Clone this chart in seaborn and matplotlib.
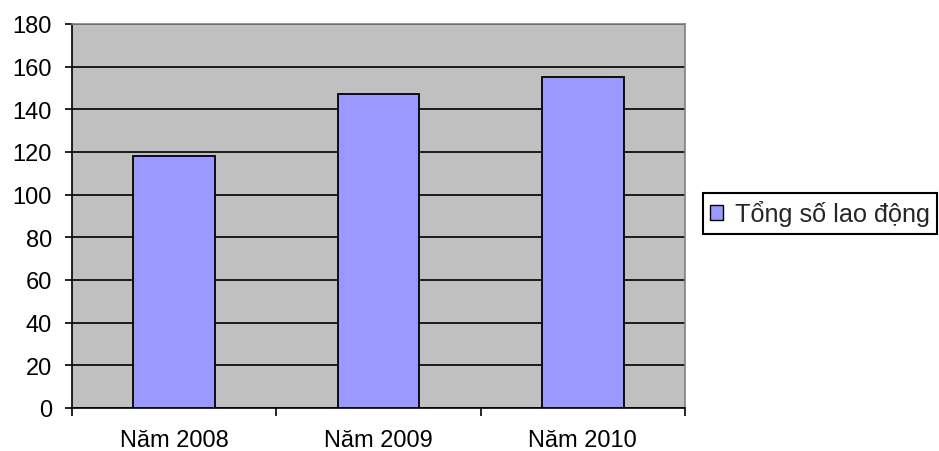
import matplotlib
matplotlib.use("Agg")
import matplotlib.pyplot as plt
from matplotlib.patches import Patch
import seaborn as sns
import pandas as pd

categories = ["Năm 2008", "Năm 2009", "Năm 2010"]
values = [118, 147, 155]
series_name = "Tổng số lao động"
y_ticks = [0, 20, 40, 60, 80, 100, 120, 140, 160, 180]

sns.set_style("white")
plt.rcParams['font.family'] = ['Liberation Sans', 'DejaVu Sans']

df = pd.DataFrame({"cat": categories, "val": values})

fig = plt.figure(figsize=(9.39, 4.52), dpi=100)
ax = fig.add_axes([72/939, 1-409/452, (685-72)/939, (409-25)/452])
ax.set_facecolor("#C0C0C0")

sns.barplot(data=df, x="cat", y="val", color="#9999FF", width=0.4,
            edgecolor="black", linewidth=1.3, saturation=1, ax=ax, zorder=3)

ax.set_ylim(0, 180)
ax.set_xlim(-0.5, 2.5)
ax.set_yticks(y_ticks)
ax.yaxis.grid(True, color="black", linewidth=1.2, zorder=0)
ax.set_axisbelow(True)
ax.set_xlabel("")
ax.set_ylabel("")

ax.tick_params(axis="y", direction="out", length=5, width=1.2, color="black",
               labelsize=17, labelcolor="black", left=True, pad=9.5)
ax.tick_params(axis="x", which="major", length=0, labelsize=17,
               labelcolor="black", pad=15)
ax.set_xticks([-0.5, 0.5, 1.5, 2.5], minor=True)
ax.tick_params(axis="x", which="minor", direction="out", length=6, width=1.2,
               color="black", bottom=True)

for side in ["left", "bottom"]:
    ax.spines[side].set_color("black")
    ax.spines[side].set_linewidth(1.2)
for side in ["top", "right"]:
    ax.spines[side].set_visible(True)
    ax.spines[side].set_color("#808080")
    ax.spines[side].set_linewidth(1.2)

handle = Patch(facecolor="#9999FF", edgecolor="black", linewidth=1)
leg = fig.legend([handle], [series_name], loc="center left",
                 bbox_to_anchor=(703/939, 1-214.5/452), fontsize=18.2,
                 frameon=True, fancybox=False, framealpha=1,
                 edgecolor="black", handlelength=0.5, handleheight=0.5,
                 handletextpad=0.5, borderpad=0.28, borderaxespad=0)
leg.get_frame().set_linewidth(1.5)

fig.savefig("out.png", dpi=100, facecolor="white")
